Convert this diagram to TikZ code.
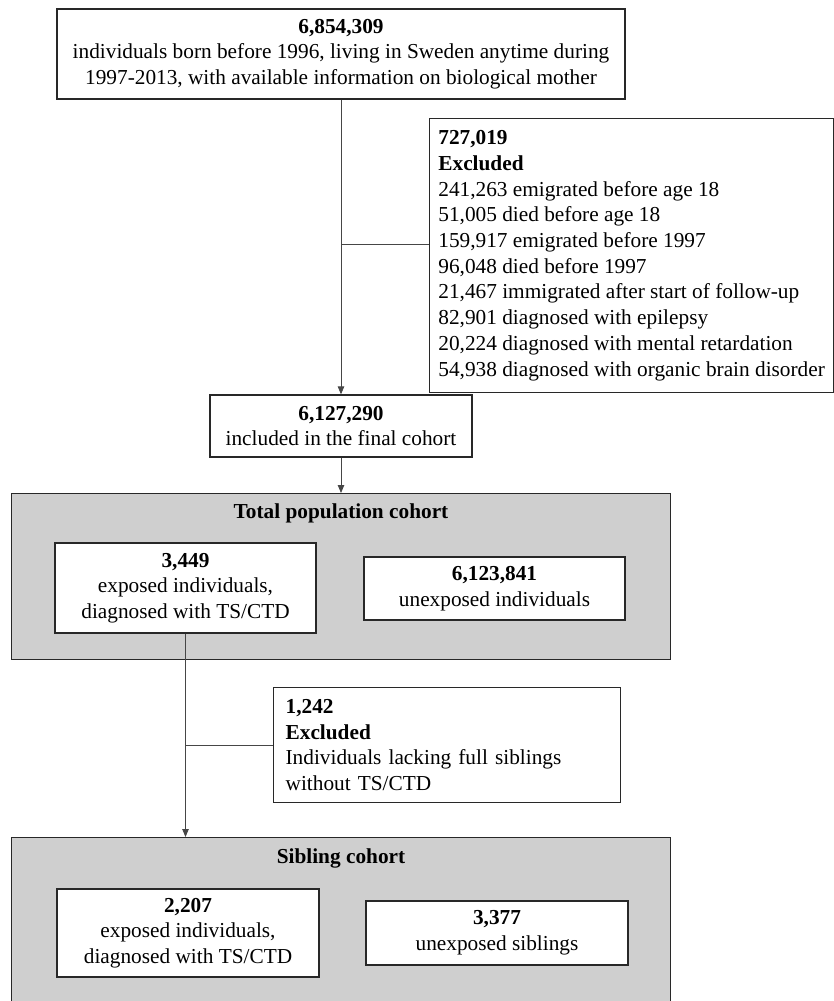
\documentclass[tikz,border=0pt]{standalone}
\usepackage{fontspec}
\setmainfont{Liberation Serif}
\usetikzlibrary{arrows.meta}
\definecolor{cohortgray}{RGB}{207,207,207}
\definecolor{boxline}{RGB}{40,40,40}
\definecolor{linegray}{RGB}{70,70,70}

\begin{document}
\begin{tikzpicture}[x=1pt,y=1pt,yscale=-1,xscale=1,
  every node/.style={font=\fontsize{21.3}{25.7}\selectfont},
  box/.style={draw=boxline, line width=1.3pt, fill=white, align=center, inner sep=0pt},
  exclbox/.style={box, align=left, anchor=north west},
  cohort/.style={draw=boxline, line width=1.3pt, fill=cohortgray, inner sep=0pt, anchor=north west},
  conn/.style={draw=linegray, line width=0.8pt},
  arr/.style={conn, -{Triangle[length=8pt,width=6.5pt]}}]
\useasboundingbox (0,0) rectangle (834,1001);

%Cohort panels
\node [cohort, minimum width=659, minimum height=166] (totpop) at (11,493) {};
\node [font=\fontsize{21.3}{25.7}\selectfont\bfseries] (totpoptitle) at (341,513) {Total population cohort};
\node [cohort, minimum width=659, minimum height=180] (sib) at (11,837) {};
\node [font=\fontsize{21.3}{25.7}\selectfont\bfseries] (sibtitle) at (341,858) {Sibling cohort};

%Boxes
\node [box, minimum width=568, minimum height=90] (start) at (341,54)
  {\textbf{6,854,309}\\individuals born before 1996, living in Sweden anytime during\\1997-2013, with available information on biological mother};
\node [exclbox, minimum width=404, minimum height=274] (excl1) at (429,118)
  {\textbf{727,019}\\\textbf{Excluded}\\241,263 emigrated before age 18\\51,005 died before age 18\\159,917 emigrated before 1997\\96,048 died before 1997\\21,467 immigrated after start of follow-up\\82,901 diagnosed with epilepsy\\20,224 diagnosed with mental retardation\\54,938 diagnosed with organic brain disorder};
\node [box, minimum width=262, minimum height=62] (final) at (341,426)
  {\textbf{6,127,290}\\included in the final cohort};
\node [box, minimum width=261, minimum height=90] (exp1) at (185.5,588)
  {\textbf{3,449}\\exposed individuals,\\diagnosed with TS/CTD};
\node [box, minimum width=261, minimum height=63] (unexp1) at (494.5,588.5)
  {\textbf{6,123,841}\\unexposed individuals};
\node [exclbox, text width=323, inner xsep=12pt, minimum height=115] (excl2) at (273,687)
  {\textbf{1,242}\\\textbf{Excluded}\\Individuals lacking full siblings\\without TS/CTD};
\node [box, minimum width=262, minimum height=88] (exp2) at (188,933)
  {\textbf{2,207}\\exposed individuals,\\diagnosed with TS/CTD};
\node [box, minimum width=262, minimum height=64] (unexp2) at (497,933)
  {\textbf{3,377}\\unexposed siblings};

%Connectors
\coordinate (br1) at (341,244);
\draw [arr] (start.south) -- (final.north);
\draw [conn] (br1) -- (br1 -| excl1.west);
\draw [arr] (final.south) -- (totpop.north -| final.south);
\draw [arr] (exp1.south) -- (sib.north -| exp1.south);
\draw [conn] (excl2.west) -- (excl2.west -| exp1.south);

\end{tikzpicture}
\end{document}
